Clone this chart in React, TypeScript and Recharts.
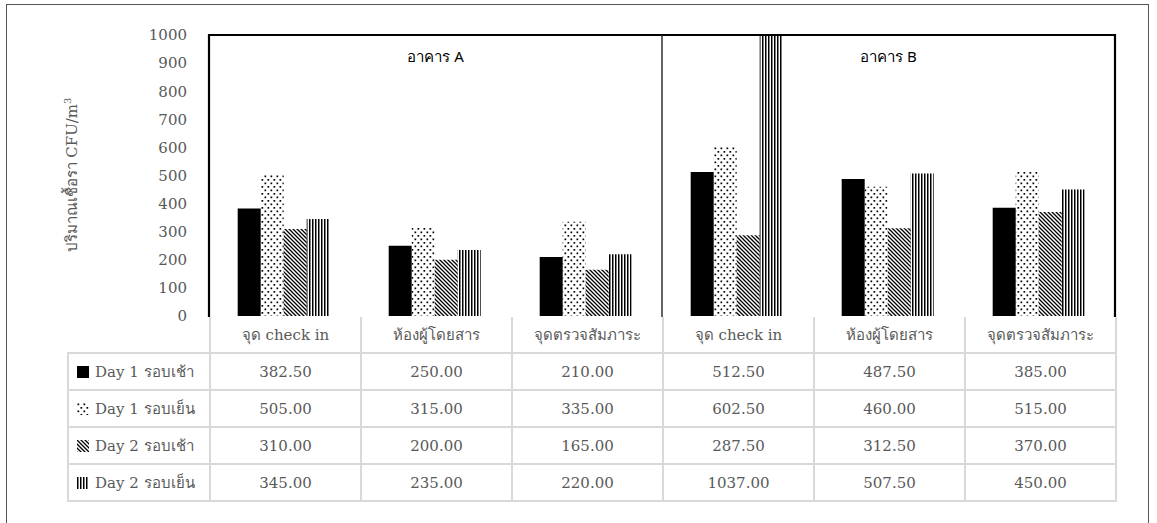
import React from 'react';
import { BarChart, Bar, XAxis, YAxis } from 'recharts';

// categories (two buildings x three sampling points)
const categories = ['จุด check in', 'ห้องผู้โดยสาร', 'จุดตรวจสัมภาระ', 'จุด check in', 'ห้องผู้โดยสาร', 'จุดตรวจสัมภาระ'];
const buildings = ['อาคาร A', 'อาคาร B'];
const seriesNames = ['Day 1 รอบเช้า', 'Day 1 รอบเย็น', 'Day 2 รอบเช้า', 'Day 2 รอบเย็น'];

const day1Morning = [382.5, 250, 210, 512.5, 487.5, 385];
const day1Evening = [505, 315, 335, 602.5, 460, 515];
const day2Morning = [310, 200, 165, 287.5, 312.5, 370];
const day2Evening = [345, 235, 220, 1037, 507.5, 450];

const yTicks = [0, 100, 200, 300, 400, 500, 600, 700, 800, 900, 1000];

const seriesValues = [day1Morning, day1Evening, day2Morning, day2Evening];
const seriesKeys = ['d1m', 'd1e', 'd2m', 'd2e'];
const seriesFills = ['#000000', 'url(#pDots)', 'url(#pDiag)', 'url(#pVert)'];

const data = categories.map((name, i) => ({
  id: i,
  name,
  d1m: day1Morning[i],
  d1e: day1Evening[i],
  d2m: day2Morning[i],
  d2e: day2Evening[i],
}));

const W = 1157;
const H = 523;
const PLOT = { left: 209, top: 35, right: 1115, bottom: 316 };
const Y_AXIS_W = 60;

const GRAY = '#595959';
const SERIF = '"DejaVu Serif", "Liberation Serif", serif';
const SANS = '"Noto Sans", "DejaVu Sans", sans-serif';

const Patterns = () => (
  <svg width={0} height={0} style={{ position: 'absolute' }}>
    <defs>
      <pattern id="pDots" width={6} height={7} patternUnits="userSpaceOnUse">
        <rect x={0.5} y={0.5} width={1.7} height={1.7} fill="#000" />
        <rect x={3.5} y={4} width={1.7} height={1.7} fill="#000" />
      </pattern>
      <pattern id="pDiag" width={4} height={4} patternUnits="userSpaceOnUse">
        <path d="M-1,-1 L5,5 M-1,3 L1,5 M3,-1 L5,1" stroke="#000" strokeWidth={1.3} />
      </pattern>
      <pattern id="pVert" width={3} height={3} patternUnits="userSpaceOnUse">
        <rect x={0} y={0} width={1.5} height={3} fill="#000" />
      </pattern>
    </defs>
  </svg>
);

const LegendIcon = ({ fill }: { fill: string }) => (
  <svg width={12} height={12} style={{ verticalAlign: '-1px', marginRight: 6 }}>
    <rect x={0} y={0} width={12} height={12} fill={fill} />
  </svg>
);

export default function App() {
  const colW = (PLOT.right - PLOT.left) / categories.length;
  const mid = (PLOT.left + PLOT.right) / 2;
  const cell: React.CSSProperties = {
    border: '2px solid #d9d9d9',
    textAlign: 'center',
    padding: 0,
    color: GRAY,
    fontFamily: SERIF,
    fontSize: 15,
  };

  return (
    <div style={{ position: 'absolute', left: 0, top: 0, width: W, height: H, background: '#fff', overflow: 'hidden' }}>
      <Patterns />
      {/* outer frame */}
      <div style={{ position: 'absolute', left: 6, top: 4, width: 1143, height: 560, border: '1.5px solid #555', boxSizing: 'border-box' }} />

      <BarChart
        width={W}
        height={H}
        data={data}
        margin={{ top: PLOT.top, right: W - PLOT.right, bottom: H - PLOT.bottom, left: PLOT.left - Y_AXIS_W }}
        barCategoryGap="19%"
        barGap={0}
        style={{ position: 'absolute', left: 0, top: 0 }}
      >
        <XAxis dataKey="id" height={0} tick={false} tickLine={false} axisLine={{ stroke: '#bfbfbf', strokeWidth: 2 }} />
        <YAxis
          width={Y_AXIS_W}
          domain={[0, 1000]}
          ticks={yTicks}
          allowDataOverflow
          axisLine={false}
          tickLine={false}
          tickMargin={16}
          tick={{ fill: GRAY, fontSize: 15, fontFamily: SERIF }}
        />
        {seriesKeys.map((k, i) => (
          <Bar key={k} dataKey={k} name={seriesNames[i]} fill={seriesFills[i]} isAnimationActive={false} />
        ))}
      </BarChart>

      {/* building frame */}
      <svg width={W} height={H} style={{ position: 'absolute', left: 0, top: 0, pointerEvents: 'none' }}>
        <path
          d={`M${PLOT.left},${PLOT.bottom + 1} L${PLOT.left},${PLOT.top} L${PLOT.right},${PLOT.top} L${PLOT.right},${PLOT.bottom + 1}`}
          fill="none"
          stroke="#000"
          strokeWidth={2.2}
        />
        <line x1={mid} y1={PLOT.top} x2={mid} y2={PLOT.bottom + 1} stroke="#222" strokeWidth={1.4} />
        {buildings.map((b, i) => (
          <text
            key={b}
            x={PLOT.left + (mid - PLOT.left) * (i + 0.5)}
            y={62}
            textAnchor="middle"
            fontFamily={SANS}
            fontSize={15}
            fill="#000"
          >
            {b}
          </text>
        ))}
      </svg>

      {/* y axis title */}
      <div
        style={{
          position: 'absolute',
          left: 72,
          top: 175,
          transform: 'translate(-50%, -50%) rotate(-90deg)',
          whiteSpace: 'nowrap',
          color: GRAY,
          fontFamily: SERIF,
          fontSize: 15,
        }}
      >
        ปริมาณเชื้อรา CFU/m<sup style={{ fontSize: 10 }}>3</sup>
      </div>

      {/* data table */}
      <table
        style={{
          position: 'absolute',
          left: 67,
          top: 317,
          borderCollapse: 'collapse',
          tableLayout: 'fixed',
          width: PLOT.left - 67 + colW * categories.length + 2,
        }}
      >
        <colgroup>
          <col style={{ width: PLOT.left - 67 }} />
          {categories.map((_, i) => (
            <col key={i} style={{ width: colW }} />
          ))}
        </colgroup>
        <tbody>
          <tr style={{ height: 36 }}>
            <td style={{ ...cell, border: 'none' }} />
            {categories.map((c, i) => (
              <td key={i} style={{ ...cell, borderTop: 'none' }}>
                {c}
              </td>
            ))}
          </tr>
          {seriesNames.map((s, r) => (
            <tr key={s} style={{ height: 37 }}>
              <td style={{ ...cell, textAlign: 'left', paddingLeft: 8, whiteSpace: 'nowrap' }}>
                <LegendIcon fill={seriesFills[r]} />
                {s}
              </td>
              {seriesValues[r].map((v, i) => (
                <td key={i} style={cell}>
                  {v.toFixed(2)}
                </td>
              ))}
            </tr>
          ))}
        </tbody>
      </table>
    </div>
  );
}
